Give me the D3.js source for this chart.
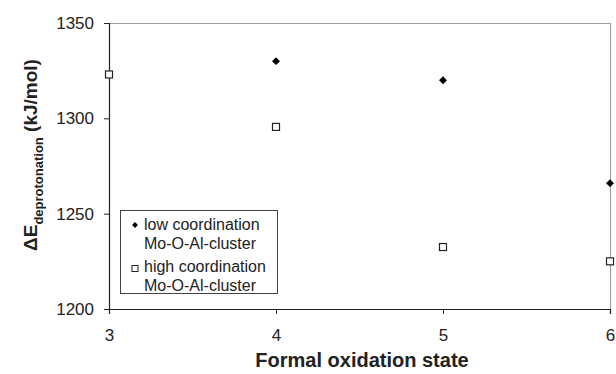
<!DOCTYPE html>
<html>
<head>
<meta charset="utf-8">
<script src="https://cdn.jsdelivr.net/npm/d3@7"></script>
<style>
  body { margin: 0; background: #fff; }
  text { font-family: "Liberation Sans", Arial, sans-serif; }
</style>
</head>
<body>
<script>
var w = 616;
var h = 374;

// data
var oxidationStates = [3, 4, 5, 6];
var lowStates = [4, 5, 6];
var lowValues = [1330, 1320, 1266];
var highStates = [3, 4, 5, 6];
var highValues = [1323, 1295.5, 1232.5, 1225];
var yTicks = [1200, 1250, 1300, 1350];
var legendLabels = [["low coordination", "Mo-O-Al-cluster"], ["high coordination", "Mo-O-Al-cluster"]];

var plotL = 109, plotR = 610, plotT = 23, plotB = 309;

var svg = d3.select("body")
    .append("svg")
    .attr("width", w)
    .attr("height", h);

var x = d3.scaleLinear().domain([3, 6]).range([plotL, plotR]);
var y = d3.scaleLinear().domain([1200, 1350]).range([plotB, plotT]);

// top and right frame (grey)
svg.append("path")
    .attr("d", "M" + plotL + "," + (plotT + 0.5) + "H" + (plotR + 0.5) + "V" + plotB)
    .attr("fill", "none")
    .attr("stroke", "#a0a0a0")
    .attr("stroke-width", 1.2);

// y axis
var yAxis = svg.append("g")
    .attr("transform", "translate(" + plotL + ",0)")
    .call(d3.axisLeft(y).tickValues(yTicks).tickSize(5).tickPadding(10).tickFormat(d3.format("d")));

// x axis
var xAxis = svg.append("g")
    .attr("transform", "translate(0," + plotB + ")")
    .call(d3.axisBottom(x).tickValues(oxidationStates).tickSize(5).tickPadding(15).tickFormat(d3.format("d")));

[yAxis, xAxis].forEach(function(a) {
  a.attr("font-family", null).attr("font-size", null);
  a.select(".domain").attr("stroke", "#222").attr("stroke-width", 1.2);
  a.selectAll(".tick line").attr("stroke", "#222");
  a.selectAll(".tick text")
      .attr("fill", "#222")
      .style("font-size", "17px");
});

// low coordination: filled diamonds
svg.selectAll(".low")
    .data(lowStates)
    .enter()
    .append("path")
    .attr("class", "low")
    .attr("d", d3.symbol().type(d3.symbolDiamond2).size(40))
    .attr("transform", function(d, i) {
      return "translate(" + x(d) + "," + y(lowValues[i]) + ")";
    })
    .attr("fill", "#000");

// high coordination: open squares
svg.selectAll(".high")
    .data(highStates)
    .enter()
    .append("rect")
    .attr("class", "high")
    .attr("x", function(d) { return x(d) - 3.5; })
    .attr("y", function(d, i) { return y(highValues[i]) - 3.5; })
    .attr("width", 7)
    .attr("height", 7)
    .attr("fill", "#fff")
    .attr("stroke", "#222")
    .attr("stroke-width", 1.2);

// legend
var lg = svg.append("g").attr("transform", "translate(120,210)");
lg.append("rect")
    .attr("x", 0.5)
    .attr("y", 0.5)
    .attr("width", 157)
    .attr("height", 83)
    .attr("fill", "#fff")
    .attr("stroke", "#444");

lg.append("path")
    .attr("d", d3.symbol().type(d3.symbolDiamond2).size(22))
    .attr("transform", "translate(15,15)")
    .attr("fill", "#000");
lg.append("rect")
    .attr("x", 12).attr("y", 55.5)
    .attr("width", 6).attr("height", 6)
    .attr("fill", "#fff")
    .attr("stroke", "#222");

legendLabels.forEach(function(lines, i) {
  var t = lg.append("text")
      .attr("x", 24)
      .attr("y", 20 + i * 42)
      .attr("fill", "#222")
      .style("font-size", "16px");
  t.append("tspan").text(lines[0]);
  t.append("tspan").attr("x", 24).attr("dy", 19).text(lines[1]);
});

// axis titles
svg.append("text")
    .attr("x", 362)
    .attr("y", 367)
    .attr("text-anchor", "middle")
    .attr("fill", "#222")
    .style("font-size", "20px")
    .style("font-weight", "bold")
    .text("Formal oxidation state");

var yt = svg.append("text")
    .attr("transform", "translate(37,155) rotate(-90)")
    .attr("text-anchor", "middle")
    .attr("fill", "#222")
    .style("font-size", "19px")
    .style("font-weight", "bold");
yt.append("tspan").text("\u0394E");
yt.append("tspan").attr("dy", 6).style("font-size", "13px").text("deprotonation");
yt.append("tspan").attr("dy", -6).text(" (kJ/mol)");
</script>
</body>
</html>
